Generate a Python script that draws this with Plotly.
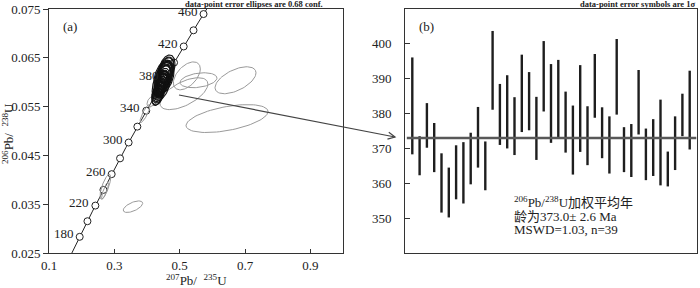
import numpy as np
import plotly.graph_objects as go

# ---------------- data ----------------
# Panel (b): 206Pb/238U ages, 1-sigma error bar ends (Ma)
bar_low = [368.3, 362.3, 370.2, 363.2, 351.6, 350.2, 355.4, 354.2, 359.7, 364.5,
           358.0, 381.1, 371.0, 370.0, 368.1, 374.7, 375.2, 366.7, 380.6, 371.6,
           373.2, 368.8, 362.5, 369.0, 365.2, 378.8, 367.2, 362.8, 379.7, 363.2,
           361.8, 374.0, 360.9, 362.1, 359.4, 359.1, 363.8, 373.5, 369.7]
bar_high = [396.1, 373.5, 383.0, 377.3, 368.6, 364.5, 370.9, 371.8, 374.5, 381.9,
            372.0, 403.7, 388.5, 391.0, 384.7, 396.9, 391.9, 384.8, 400.8, 394.2,
            395.4, 386.3, 382.3, 393.9, 382.1, 397.1, 381.8, 379.2, 401.4, 376.1,
            377.0, 392.5, 375.7, 378.4, 384.0, 369.1, 379.2, 385.7, 392.3]
mean_age = 373.0

# Panel (a): 207Pb/235U centres of the accepted (black) ellipses
ell_x = [0.4517, 0.4396, 0.4470, 0.4416, 0.4329, 0.4306, 0.4355, 0.4354, 0.4389, 0.4441,
         0.4371, 0.4604, 0.4497, 0.4503, 0.4468, 0.4548, 0.4529, 0.4462, 0.4590, 0.4523,
         0.4535, 0.4478, 0.4434, 0.4511, 0.4445, 0.4567, 0.4452, 0.4422, 0.4589, 0.4410,
         0.4408, 0.4526, 0.4399, 0.4416, 0.4428, 0.4363, 0.4426, 0.4495, 0.4507]

# Concordia ages (Ma)
conc_ticks = [180, 200, 220, 240, 260, 280, 300, 320, 340, 360, 380, 400, 420, 440, 460]
conc_labels = [180, 220, 260, 300, 340, 380, 420, 460]
conc_span = [150, 480]

# Rejected (grey) analyses: centre, half-extent, correlation
grey_x = [0.645, 0.671, 0.5576, 0.513, 0.522, 0.394, 0.417, 0.2724, 0.2715, 0.357]
grey_y = [0.05255, 0.0604, 0.0604, 0.05765, 0.0613, 0.05357, 0.0562, 0.03857, 0.03776, 0.03449]
grey_sx = [0.1255, 0.0627, 0.0566, 0.0735, 0.0413, 0.0153, 0.017, 0.0163, 0.0107, 0.0297]
grey_sy = [0.00286, 0.00276, 0.00153, 0.00327, 0.00286, 0.00184, 0.0012, 0.00255, 0.00173, 0.00118]
grey_rho = [0.5, 0.55, 0.3, 0.6, 0.5, 0.85, 0.5, 0.75, 0.85, 0.6]

x_ticks = [0.1, 0.3, 0.5, 0.7, 0.9]
y_ticks = [0.025, 0.035, 0.045, 0.055, 0.065, 0.075]
y2_ticks = [350, 360, 370, 380, 390, 400]

# ---------------- helpers ----------------
L238 = 1.55125e-4  # per Ma
L235 = 9.8485e-4
K68 = 1.51  # 2-D 68 % confidence scale


def conc(t):
    t = np.asarray(t, dtype=float)
    return np.exp(L235 * t) - 1, np.exp(L238 * t) - 1


def ellipse(cx, cy, sx, sy, rho, n=80):
    th = np.linspace(0, 2 * np.pi, n)
    x = cx + sx * np.cos(th)
    y = cy + sy * (rho * np.cos(th) + np.sqrt(1 - rho ** 2) * np.sin(th))
    return list(x), list(y)


W, H = 700, 288
ML, MR, MT, MB = 49, 3, 9, 35
PW, PH = W - ML - MR, H - MT - MB


def px(xp):
    return (xp - ML) / PW


def py(yp):
    return 1 - (yp - MT) / PH


FONT = "Liberation Serif, Times New Roman, serif"
CJK = "Liberation Serif, Noto Sans CJK SC, serif"

fig = go.Figure()

# concordia curve
tt = np.linspace(conc_span[0], conc_span[1], 300)
cxv, cyv = conc(tt)
fig.add_trace(go.Scatter(x=cxv, y=cyv, mode="lines", line=dict(color="#222", width=1),
                         hoverinfo="skip", showlegend=False))

# concordia age markers
tx, ty = conc(conc_ticks)
fig.add_trace(go.Scatter(x=tx, y=ty, mode="markers",
                         marker=dict(symbol="circle", size=7, color="white",
                                     line=dict(color="#222", width=1)),
                         showlegend=False, hoverinfo="skip"))

# grey ellipses
for i in range(len(grey_x)):
    ex, ey = ellipse(grey_x[i], grey_y[i], grey_sx[i], grey_sy[i], grey_rho[i])
    fig.add_trace(go.Scatter(x=ex, y=ey, mode="lines", line=dict(color="#9a9a9a", width=1),
                             showlegend=False, hoverinfo="skip"))

# black ellipses from accepted analyses
for xc, lo, hi in zip(ell_x, bar_low, bar_high):
    t = (lo + hi) / 2
    s = (hi - lo) / 2
    _, cy = conc(t)
    sy = L238 * np.exp(L238 * t) * s * K68
    sx = L235 * np.exp(L235 * t) * s * 1.55
    ex, ey = ellipse(xc, float(cy), sx, sy, 0.35)
    fig.add_trace(go.Scatter(x=ex, y=ey, mode="lines", line=dict(color="#111", width=1.1),
                             showlegend=False, hoverinfo="skip"))

# panel (b) bars
bx, by = [], []
for i, (lo, hi) in enumerate(zip(bar_low, bar_high)):
    bx += [i + 1, i + 1, None]
    by += [lo, hi, None]
fig.add_trace(go.Scatter(x=bx, y=by, mode="lines", line=dict(color="#1e1e1e", width=2.4),
                         xaxis="x2", yaxis="y2", showlegend=False, hoverinfo="skip"))
fig.add_trace(go.Scatter(x=[0.25, 39.9], y=[mean_age, mean_age], mode="lines",
                         line=dict(color="#585858", width=2.6),
                         xaxis="x2", yaxis="y2", showlegend=False, hoverinfo="skip"))

axis_common = dict(showline=True, mirror=True, linecolor="#333", linewidth=1,
                   showgrid=False, zeroline=False,
                   tickfont=dict(family=FONT, size=13, color="#222"))

fig.update_layout(
    width=W, height=H, margin=dict(l=ML, r=MR, t=MT, b=MB),
    paper_bgcolor="white", plot_bgcolor="white",
    xaxis=dict(domain=[0, px(343)], range=[0.1, 1.0], tickvals=x_ticks,
               ticktext=[f"{v:.1f}" for v in x_ticks], ticks="inside", ticklen=4,
               tickcolor="#333", ticklabelstandoff=0, **axis_common),
    yaxis=dict(domain=[0, 1], range=[0.025, 0.075], tickvals=y_ticks,
               ticktext=[f"{v:.3f}" for v in y_ticks], ticks="outside", ticklen=5,
               tickcolor="#333", **axis_common),
    xaxis2=dict(domain=[px(405), 1], range=[0, 40], anchor="y2", showticklabels=False,
                ticks="", **axis_common),
    yaxis2=dict(domain=[0, 1], range=[340, 410], anchor="x2", tickvals=y2_ticks,
                ticks="inside", ticklen=5, tickcolor="#333", ticklabelstandoff=10,
                **axis_common),
)

ann = []
# concordia age labels
lx, ly = conc(conc_labels)
for a, xx, yy in zip(conc_labels, lx, ly):
    ann.append(dict(x=float(xx), y=float(yy), xref="x", yref="y", showarrow=False,
                    text=str(a), font=dict(family=FONT, size=13, color="#222"),
                    xanchor="right", yanchor="middle", xshift=-4, yshift=3))
ann.append(dict(x=px(196), y=py(280), xref="paper", yref="paper", showarrow=False,
                text="<sup>207</sup>Pb/  <sup>235</sup>U", font=dict(family=FONT, size=13, color="#222"),
                xanchor="center", yanchor="middle"))
ann.append(dict(x=px(8), y=py(134), xref="paper", yref="paper", showarrow=False,
                text="<sup>206</sup>Pb/  <sup>238</sup>U", textangle=-90,
                font=dict(family=FONT, size=13, color="#222"),
                xanchor="center", yanchor="middle"))
ann.append(dict(x=px(254), y=py(4), xref="paper", yref="paper", showarrow=False,
                text="<b>data-point error ellipses are 0.68 conf.</b>",
                font=dict(family=FONT, size=8.5, color="#222"),
                xanchor="center", yanchor="middle"))
ann.append(dict(x=px(697), y=py(4), xref="paper", yref="paper", showarrow=False,
                text="<b>data-point error symbols are 1σ</b>",
                font=dict(family=FONT, size=8.5, color="#222"),
                xanchor="right", yanchor="middle"))
ann.append(dict(x=px(61), y=py(26), xref="paper", yref="paper", showarrow=False,
                text="(a)", font=dict(family=FONT, size=13, color="#222"),
                xanchor="left", yanchor="middle"))
ann.append(dict(x=px(417), y=py(26), xref="paper", yref="paper", showarrow=False,
                text="(b)", font=dict(family=FONT, size=13, color="#222"),
                xanchor="left", yanchor="middle"))
lines_b = ["<sup>206</sup>Pb/<sup>238</sup>U加权平均年",
           "龄为373.0± 2.6 Ma",
           "MSWD=1.03, n=39"]
for txt, yy in zip(lines_b, [202, 216, 229]):
    ann.append(dict(x=px(512), y=py(yy), xref="paper", yref="paper", showarrow=False,
                    text=txt, font=dict(family=CJK, size=13, color="#222"),
                    xanchor="left", yanchor="middle"))
fig.update_layout(annotations=ann)

# arrow from cluster to mean line
x0, y0, x1, y1 = 179, 95, 395, 137
d = np.array([x1 - x0, y1 - y0], dtype=float)
d /= np.linalg.norm(d)
pp = np.array([-d[1], d[0]])
tip = np.array([x1, y1], dtype=float)
a1 = tip - 7 * d + 3.5 * pp
a2 = tip - 7 * d - 3.5 * pp
shapes = [
    dict(type="line", xref="paper", yref="paper", x0=px(x0), y0=py(y0), x1=px(x1), y1=py(y1),
         line=dict(color="#444", width=1.2)),
    dict(type="path", xref="paper", yref="paper",
         path=f"M {px(a1[0])},{py(a1[1])} L {px(tip[0])},{py(tip[1])} L {px(a2[0])},{py(a2[1])}",
         line=dict(color="#444", width=1.2)),
]
fig.update_layout(shapes=shapes)

fig.write_html("out.html", config={"displayModeBar": False},
               post_script="document.body.style.margin='0';document.body.style.padding='0';")
